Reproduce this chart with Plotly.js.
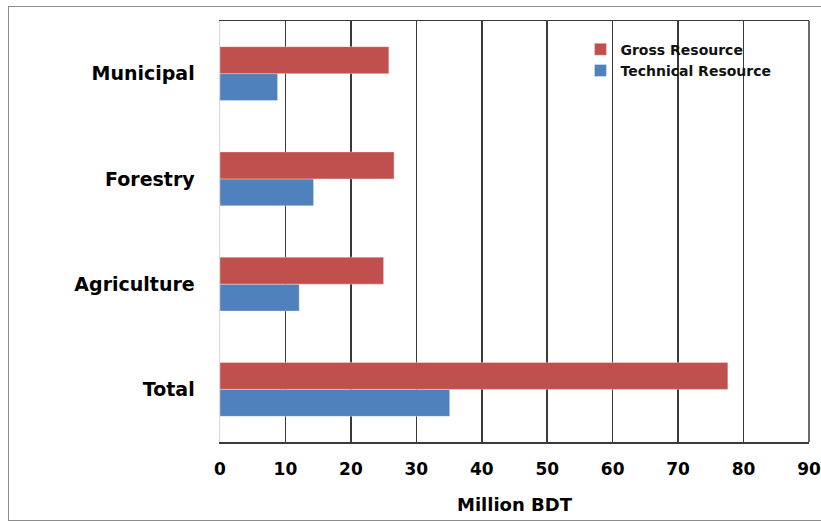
<!DOCTYPE html>
<html>
<head>
<meta charset="utf-8">
<script src="https://cdn.plot.ly/plotly-3.0.1.min.js"></script>
<style>
  html, body { margin: 0; padding: 0; background: #fff; overflow: hidden; }
  #wrap { position: relative; width: 821px; height: 521px; }
  #chart { width: 821px; height: 521px; }
  #frame { position: absolute; left: 8px; top: 6px; width: 840px; height: 513px; border: 1px solid #8c8c8c; pointer-events: none; }
</style>
</head>
<body>
<div id="wrap">
  <div id="chart"></div>
  <div id="frame"></div>
</div>
<script>
const categories = ["Total", "Agriculture", "Forestry", "Municipal"];
const grossResource = [77.6, 25.0, 26.6, 25.8];
const technicalResource = [35.1, 12.1, 14.3, 8.8];
const xTicks = [0, 10, 20, 30, 40, 50, 60, 70, 80, 90];

const traces = [
  {
    type: "bar", orientation: "h", name: "Technical Resource",
    y: categories, x: technicalResource,
    marker: { color: "#4F81BD", line: { color: "rgba(255,255,255,0.35)", width: 1 } }
  },
  {
    type: "bar", orientation: "h", name: "Gross Resource",
    y: categories, x: grossResource,
    marker: { color: "#C0504D", line: { color: "rgba(255,255,255,0.35)", width: 1 } }
  }
];

const layout = {
  width: 821, height: 521,
  margin: { l: 220, r: 12, t: 21, b: 79 },
  paper_bgcolor: "#fff", plot_bgcolor: "#fff",
  barmode: "group", bargap: 0.487, bargroupgap: 0,
  font: { family: "DejaVu Sans, Verdana, sans-serif", color: "#000", weight: "bold" },
  showlegend: true,
  legend: {
    x: 0.612, y: 0.97, xanchor: "left", yanchor: "top",
    traceorder: "reversed", bgcolor: "rgba(0,0,0,0)",
    font: { size: 14, color: "#111", weight: "bold" }, itemwidth: 30, tracegroupgap: 0
  },
  xaxis: {
    range: [0, 90], tickvals: xTicks, ticktext: xTicks.map(String),
    showgrid: true, gridcolor: "#3a3a3a", gridwidth: 1.5,
    showline: true, mirror: true, linecolor: "#3a3a3a", linewidth: 1.5,
    zeroline: false, ticks: "", ticklabelstandoff: 11,
    tickfont: { size: 17, weight: "bold" },
    title: { text: "Million BDT", font: { size: 18, weight: "bold" }, standoff: 20 },
    fixedrange: true
  },
  yaxis: {
    categoryorder: "array", categoryarray: categories,
    showgrid: false, showline: true, linecolor: "#d9d9d9", linewidth: 1.5,
    ticks: "", ticklabelstandoff: 20,
    tickfont: { size: 19, weight: "bold" }, fixedrange: true
  },
  shapes: [
    { type: "line", xref: "paper", yref: "paper", x0: 1, x1: 1, y0: 0, y1: 1,
      line: { color: "#3a3a3a", width: 1.5 } }
  ]
};

Plotly.newPlot("chart", traces, layout, { displayModeBar: false, staticPlot: true });
</script>
</body>
</html>
